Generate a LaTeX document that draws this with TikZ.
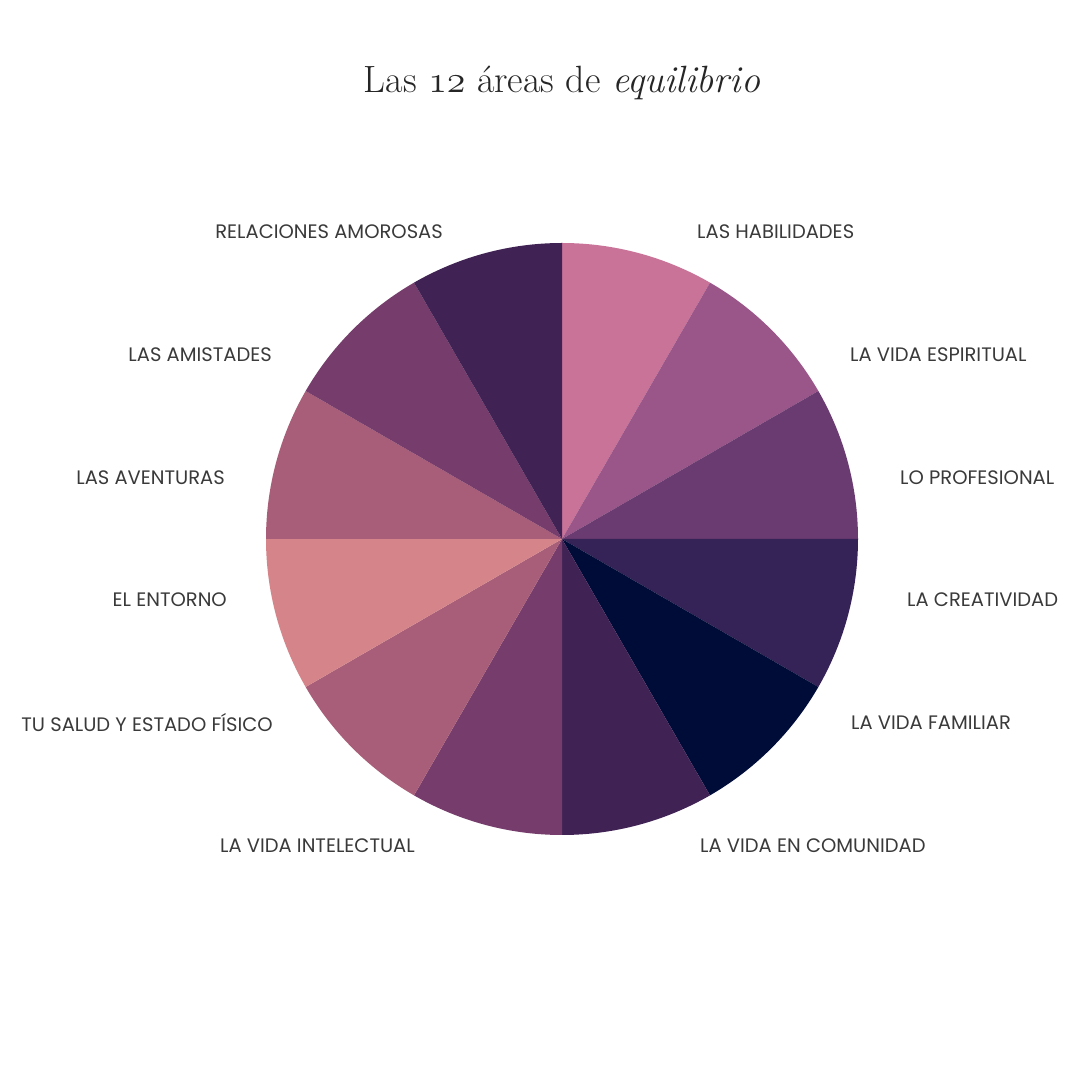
\RequirePackage{fix-cm}
\documentclass[tikz,border=0pt]{standalone}
\usepackage{fontspec}
\newfontfamily\lblfont{Poppins}
\definecolor{cA}{HTML}{C97399}
\definecolor{cB}{HTML}{9A5689}
\definecolor{cC}{HTML}{6A3B70}
\definecolor{cD}{HTML}{352256}
\definecolor{cE}{HTML}{000C38}
\definecolor{cF}{HTML}{402254}
\definecolor{cG}{HTML}{763D6C}
\definecolor{cH}{HTML}{A85E78}
\definecolor{cI}{HTML}{D5848A}
\definecolor{txt}{HTML}{3A3A3A}
\definecolor{ttl}{HTML}{262626}
\newcommand{\oldnum}[1]{{\usefont{OML}{cmm}{m}{it}#1}}
\begin{document}
\begin{tikzpicture}[x=1pt,y=1pt,
  lblR/.style={anchor=west,inner sep=0pt,text=txt,font=\lblfont\fontsize{19.5}{22}\selectfont},
  lblL/.style={anchor=east,inner sep=0pt,text=txt,font=\lblfont\fontsize{19.5}{22}\selectfont}]
\useasboundingbox[fill=white] (0,0) rectangle (1080,1080);
\coordinate (C) at (562,541);
\foreach \a/\c in {90/cA,60/cB,30/cC,0/cD,-30/cE,-60/cF,-90/cG,-120/cH,-150/cI,180/cH,150/cG,120/cF}{
  \fill[\c] (C) -- ++(\a:296) arc[start angle=\a, end angle=\a-30, radius=296] -- cycle;
}
\node[text=ttl,font=\fontsize{38}{44}\selectfont] (title) at (562,997) {Las \oldnum{12} áreas de \textit{equilibrio}};
\node[lblR] (l1) at (697,848) {LAS HABILIDADES};
\node[lblR] (l2) at (850,725) {LA VIDA ESPIRITUAL};
\node[lblR] (l3) at (900,602) {LO PROFESIONAL};
\node[lblR] (l4) at (907,480) {LA CREATIVIDAD};
\node[lblR] (l5) at (851,357) {LA VIDA FAMILIAR};
\node[lblR] (l6) at (700,234) {LA VIDA EN COMUNIDAD};
\node[lblL] (l7) at (415,234) {LA VIDA INTELECTUAL};
\node[lblL] (l8) at (273,357) {TU SALUD Y ESTADO FÍSICO};
\node[lblL] (l9) at (227,480) {EL ENTORNO};
\node[lblL] (l10) at (225,602) {LAS AVENTURAS};
\node[lblL] (l11) at (272,725) {LAS AMISTADES};
\node[lblL] (l12) at (443,848) {RELACIONES AMOROSAS};
\end{tikzpicture}
\end{document}
